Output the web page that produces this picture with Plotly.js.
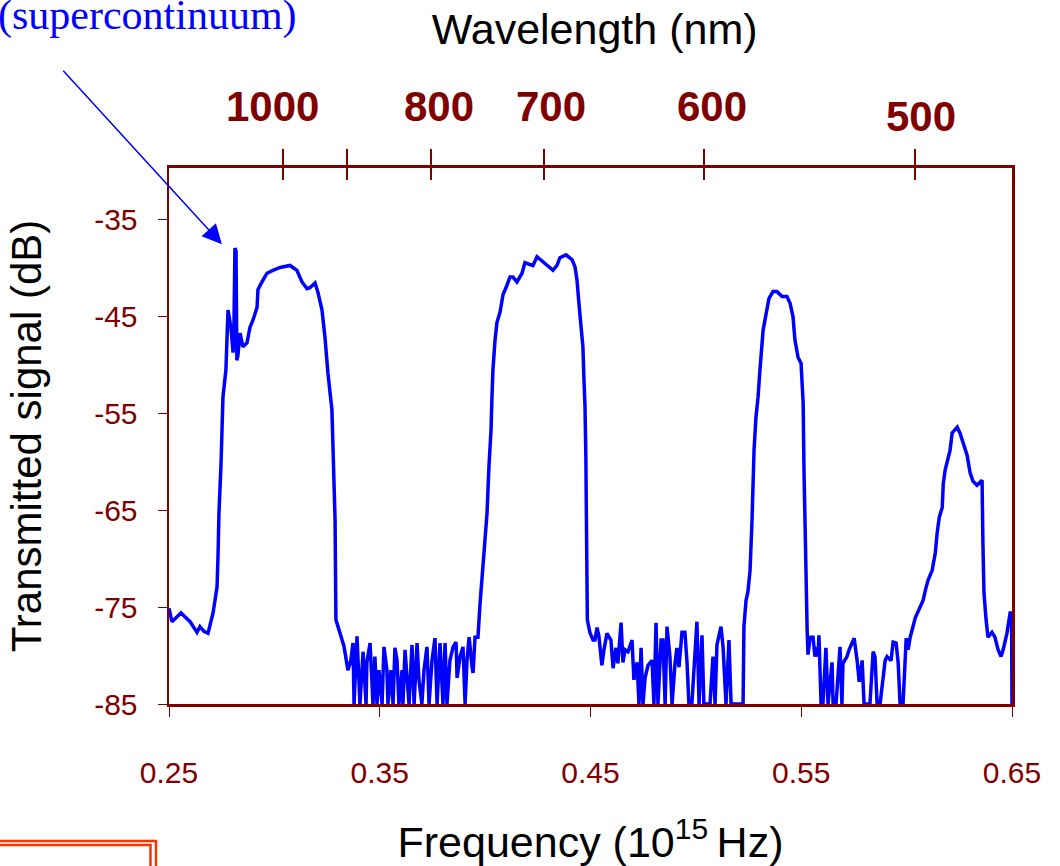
<!DOCTYPE html>
<html>
<head>
<meta charset="utf-8">
<script src="https://cdn.plot.ly/plotly-3.0.1.min.js"></script>
<style>html,body{margin:0;padding:0;background:#fff;}#chart{width:1060px;height:866px;}</style>
</head>
<body>
<div id="chart"></div>
<script>
// Frequency (10^15 Hz) and transmitted signal (dB)
const freq = [
0.2500,0.2514,0.2557,0.2600,0.2633,0.2647,0.2666,0.2685,0.2709,0.2728,0.2733,0.2737,0.2747,0.2751,0.2756,0.2770,0.2775,0.2780,0.2794,0.2804,0.2808,0.2813,0.2818,0.2822,0.2827,0.2837,0.2851,0.2870,0.2884,0.2899,0.2918,0.2922,0.2941,0.2965,0.2993,0.3027,0.3074,0.3107,0.3131,0.3155,0.3169,0.3193,0.3207,0.3226,0.3240,0.3254,0.3273,0.3278,0.3288,0.3292,0.3311,0.3330,0.3349,0.3363,0.3373,0.3378,0.3392,0.3406,0.3421,0.3435,0.3439,0.3454,0.3468,0.3477,0.3487,0.3496,0.3511,0.3520,0.3534,0.3539,0.3553,0.3563,0.3572,0.3582,0.3591,0.3606,0.3610,0.3620,0.3629,0.3639,0.3653,0.3663,0.3677,0.3686,0.3700,0.3710,0.3724,0.3734,0.3748,0.3762,0.3772,0.3786,0.3800,0.3810,0.3819,0.3833,0.3848,0.3862,0.3867,0.3881,0.3895,0.3905,0.3914,0.3924,0.3938,0.3943,0.3952,0.3966,0.3976,0.3985,0.3999,0.4009,0.4018,0.4028,0.4032,0.4037,0.4047,0.4056,0.4071,0.4085,0.4099,0.4118,0.4132,0.4151,0.4175,0.4189,0.4213,0.4227,0.4246,0.4275,0.4298,0.4322,0.4341,0.4355,0.4384,0.4412,0.4426,0.4436,0.4445,0.4455,0.4464,0.4469,0.4474,0.4478,0.4483,0.4485,0.4497,0.4512,0.4521,0.4531,0.4540,0.4554,0.4564,0.4578,0.4597,0.4607,0.4621,0.4630,0.4645,0.4654,0.4664,0.4678,0.4697,0.4706,0.4721,0.4730,0.4740,0.4749,0.4759,0.4773,0.4792,0.4801,0.4811,0.4820,0.4835,0.4844,0.4854,0.4863,0.4877,0.4887,0.4901,0.4910,0.4920,0.4934,0.4948,0.4958,0.4967,0.4981,0.5005,0.5015,0.5029,0.5038,0.5067,0.5081,0.5091,0.5100,0.5119,0.5129,0.5143,0.5157,0.5167,0.5224,0.5228,0.5238,0.5247,0.5257,0.5266,0.5271,0.5276,0.5285,0.5295,0.5304,0.5314,0.5319,0.5328,0.5338,0.5347,0.5366,0.5385,0.5409,0.5432,0.5447,0.5461,0.5470,0.5485,0.5499,0.5509,0.5513,0.5518,0.5523,0.5528,0.5532,0.5542,0.5556,0.5565,0.5575,0.5580,0.5584,0.5594,0.5603,0.5617,0.5627,0.5646,0.5651,0.5665,0.5684,0.5693,0.5698,0.5717,0.5727,0.5741,0.5751,0.5765,0.5775,0.5789,0.5798,0.5826,0.5841,0.5850,0.5860,0.5874,0.5898,0.5907,0.5926,0.5936,0.5950,0.5960,0.5969,0.5983,0.5998,0.6007,0.6017,0.6041,0.6064,0.6078,0.6093,0.6102,0.6121,0.6136,0.6145,0.6155,0.6169,0.6174,0.6183,0.6197,0.6206,0.6216,0.6240,0.6253,0.6268,0.6287,0.6301,0.6315,0.6334,0.6358,0.6362,0.6367,0.6377,0.6386,0.6405,0.6419,0.6434,0.6448,0.6458,0.6476,0.6491,0.6498,0.6500
];
const signal = [
-75.1,-76.5,-75.6,-76.5,-77.6,-77.0,-77.5,-77.7,-75.6,-72.9,-69.4,-65.3,-60.1,-55.7,-53.3,-50.5,-46.4,-44.3,-46.1,-48.7,-46.4,-37.9,-38.2,-49.5,-49.0,-46.7,-48.1,-47.7,-46.1,-45.3,-44.0,-42.2,-41.4,-40.5,-40.2,-39.9,-39.7,-40.2,-41.4,-42.1,-42.0,-41.5,-42.5,-44.3,-47.1,-50.8,-54.6,-59.1,-66.0,-76.3,-77.7,-79.0,-81.5,-80.5,-78.7,-85,-78.0,-85,-79.6,-85,-80.7,-78.7,-85,-80.1,-85,-81.5,-85,-79.1,-81.5,-85,-81.5,-85,-79.2,-80.5,-85,-81.5,-85,-79.4,-82.2,-85,-78.9,-85,-78.7,-82.5,-85,-81.5,-79.1,-85,-80.5,-78.2,-85,-78.7,-85,-78.7,-85,-80.5,-79.1,-78.6,-82.3,-80.1,-79.1,-85,-80.5,-78.1,-81.2,-81.8,-78.1,-78.1,-74.6,-72.2,-68.1,-65.3,-60.5,-56.7,-53.6,-50.5,-47.4,-45.6,-44.5,-42.7,-42.0,-40.9,-40.9,-41.4,-40.5,-39.4,-39.6,-39.7,-38.8,-39.3,-39.7,-40.2,-39.7,-38.9,-38.6,-39.1,-39.8,-41.2,-43.6,-46.0,-48.1,-51.5,-54.3,-59.5,-70.4,-76.3,-77.6,-78.4,-78.4,-77.1,-78.0,-81.0,-79.4,-77.7,-78.4,-81.3,-79.2,-80.8,-76.6,-80.7,-79.4,-79.6,-78.4,-82.5,-80.7,-85,-79.2,-85,-82.3,-81.0,-80.5,-85,-76.6,-85,-78.4,-78.4,-85,-77.0,-80.1,-85,-80.8,-79.2,-81.2,-77.6,-77.6,-80.7,-85,-85,-76.5,-85,-77.9,-85,-85,-80.1,-85,-78.9,-77.0,-79.1,-85,-78.4,-85,-85,-77.0,-74.3,-73.4,-71.2,-66.3,-62.6,-58.8,-55.4,-53.3,-50.5,-47.1,-46.4,-45.3,-44.0,-43.1,-42.4,-42.4,-42.9,-42.9,-43.6,-45.0,-47.4,-49.2,-49.8,-53.9,-60.8,-67.0,-75.3,-77.4,-79.9,-78.1,-78.1,-80.1,-79.1,-80.1,-77.9,-85,-85,-79.2,-85,-80.7,-85,-85,-79.1,-85,-80.8,-80.1,-79.4,-78.7,-78.2,-80.5,-82.7,-80.5,-85,-85,-79.6,-80.1,-85,-85,-80.5,-80.1,-80.5,-78.6,-78.7,-80.8,-85,-85,-78.2,-79.4,-78.1,-76.1,-75.1,-74.3,-72.9,-72.2,-71.2,-69.4,-67.3,-65.7,-64.7,-62.2,-60.8,-59.5,-58.8,-57.0,-56.4,-57.0,-58.0,-59.3,-61.1,-62.0,-62.4,-61.9,-68.4,-73.5,-76.3,-78.1,-77.6,-78.1,-79.4,-80.1,-79.4,-77.7,-75.6,-75.6,-85
];

// Axis ticks
const freqTicks = [0.25, 0.35, 0.45, 0.55, 0.65];
const dbTicks = [-85, -75, -65, -55, -45, -35];
// Top wavelength axis (nm) and where its ticks sit on the frequency scale
const wavelengths = [1000, 900, 800, 700, 600, 500];
const wavelengthTickFreq = [0.3041, 0.3345, 0.3743, 0.4279, 0.5038, 0.6040];
const wavelengthLabels = ['1000', '800', '700', '600', '500'];
const wavelengthLabelFreq = [0.2993, 0.3781, 0.4312, 0.5076, 0.6068];
const wavelengthLabelY = [1.114, 1.114, 1.114, 1.114, 1.097];

const maroon = '#800000';
const sans = 'Liberation Sans, Arial, sans-serif';

const traces = [
  {x: freq, y: signal, type: 'scatter', mode: 'lines',
   line: {color: '#0000ff', width: 3.5}, hoverinfo: 'skip', showlegend: false},
  {x: wavelengthTickFreq, y: wavelengthTickFreq.map(() => null), xaxis: 'x2', type: 'scatter', mode: 'lines', showlegend: false, hoverinfo: 'skip'},
  {x: wavelengthTickFreq, y: wavelengthTickFreq.map(() => null), xaxis: 'x3', type: 'scatter', mode: 'lines', showlegend: false, hoverinfo: 'skip'}
];

const annotations = wavelengthLabels.map((t, i) => ({
  text: t, x: wavelengthLabelFreq[i], xref: 'x', y: wavelengthLabelY[i], yref: 'paper',
  xanchor: 'center', yanchor: 'middle', showarrow: false,
  font: {family: sans, size: 42, color: maroon, weight: 'bold'}
}));
annotations.push({
  text: '(supercontinuum)', xref: 'paper', x: 0.1542, xanchor: 'right',
  yref: 'paper', y: 1.2845, yanchor: 'middle', showarrow: false,
  font: {family: 'Liberation Serif, Times New Roman, serif', size: 42, color: '#0000ff'}
});
annotations.push({
  text: '', x: 0.2751, y: -37.5, xref: 'x', yref: 'y', ax: -160, ay: -175,
  showarrow: true, arrowhead: 2, arrowsize: 2.6, arrowwidth: 1.5, arrowcolor: '#0000ff'
});

const layout = {
  width: 1060, height: 866,
  margin: {l: 169, r: 48, t: 168, b: 162, pad: 0},
  paper_bgcolor: '#ffffff', plot_bgcolor: '#ffffff',
  showlegend: false,
  title: {text: 'Wavelength (nm)', xref: 'container', x: 0.561, xanchor: 'center',
          yref: 'container', y: 0.966, yanchor: 'middle',
          font: {family: sans, size: 43, color: '#000000'}},
  xaxis: {
    range: [0.25, 0.65], tickvals: freqTicks, ticktext: freqTicks.map(v => v.toFixed(2)),
    ticks: 'outside', ticklen: 10, tickwidth: 1, tickcolor: maroon,
    showline: true, linecolor: maroon, linewidth: 3, mirror: true,
    showgrid: false, zeroline: false, ticklabelstandoff: 30,
    tickfont: {family: sans, size: 30, color: maroon},
    title: {text: 'Frequency (10<sup>15 </sup>Hz)\u00a0\u00a0', standoff: 43,
            font: {family: sans, size: 43, color: '#000000'}}
  },
  xaxis2: {
    overlaying: 'x', side: 'top', anchor: 'y', range: [0.25, 0.65],
    tickvals: wavelengthTickFreq, ticktext: wavelengths.map(String), showticklabels: false,
    ticks: 'outside', ticklen: 18, tickwidth: 1.5, tickcolor: maroon,
    showline: false, showgrid: false, zeroline: false
  },
  xaxis3: {
    overlaying: 'x', side: 'top', anchor: 'y', range: [0.25, 0.65],
    tickvals: wavelengthTickFreq, showticklabels: false,
    ticks: 'inside', ticklen: 12, tickwidth: 1.5, tickcolor: maroon,
    showline: false, showgrid: false, zeroline: false
  },
  yaxis: {
    range: [-85, -29.63], tickvals: dbTicks, ticktext: dbTicks.map(v => String(v).replace('\u2212', '-')),
    ticks: 'outside', ticklen: 9, tickwidth: 1, tickcolor: maroon,
    showline: true, linecolor: maroon, linewidth: 2.5, mirror: true,
    showgrid: false, zeroline: false, ticklabelstandoff: 14,
    tickfont: {family: sans, size: 30, color: maroon},
    title: {text: 'Transmitted signal (dB)', standoff: 40,
            font: {family: sans, size: 42, color: '#000000'}}
  },
  annotations: annotations,
  shapes: [
    {type: 'rect', xref: 'paper', yref: 'paper', x0: -0.2123, x1: -0.01542, y0: -0.2556, y1: -0.3284,
     line: {color: '#ff3300', width: 2.5}, fillcolor: 'rgba(0,0,0,0)', layer: 'above'},
    {type: 'rect', xref: 'paper', yref: 'paper', x0: -0.2123, x1: -0.02195, y0: -0.2631, y1: -0.3284,
     line: {color: '#ff3300', width: 2.5}, fillcolor: 'rgba(0,0,0,0)', layer: 'above'}
  ]
};

Plotly.newPlot('chart', traces, layout, {displayModeBar: false, staticPlot: true});
</script>
</body>
</html>
